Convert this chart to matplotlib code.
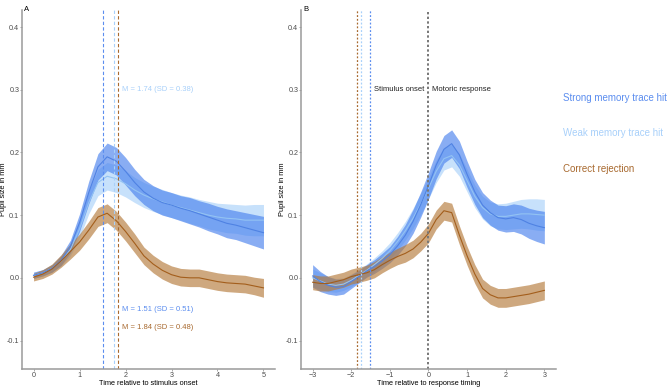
import numpy as np
import matplotlib
matplotlib.use("Agg")
import matplotlib.pyplot as plt

plt.rcParams['font.family'] = ['Liberation Sans', 'DejaVu Sans']

# ---- panel A: time relative to stimulus onset ----
time_a = [0.0, 0.2, 0.4, 0.6, 0.8, 1.0, 1.2, 1.4, 1.6, 1.8, 2.0, 2.2, 2.4,
          2.6, 2.8, 3.0, 3.2, 3.4, 3.6, 3.8, 4.0, 4.2, 4.4, 4.6, 4.8, 5.0]
strong_a = [0.004, 0.008, 0.015, 0.028, 0.050, 0.088, 0.136, 0.177, 0.193, 0.186,
            0.170, 0.152, 0.137, 0.127, 0.120, 0.116, 0.111, 0.107, 0.102, 0.097,
            0.092, 0.087, 0.084, 0.080, 0.076, 0.072]
strong_a_se = [0.005, 0.005, 0.006, 0.008, 0.010, 0.014, 0.018, 0.021, 0.022, 0.022,
               0.022, 0.021, 0.020, 0.020, 0.020, 0.020, 0.020, 0.021, 0.021, 0.022,
               0.022, 0.023, 0.023, 0.024, 0.025, 0.026]
weak_a = [0.004, 0.008, 0.015, 0.027, 0.045, 0.078, 0.120, 0.152, 0.162, 0.158,
          0.150, 0.140, 0.132, 0.126, 0.121, 0.116, 0.112, 0.108, 0.104, 0.100,
          0.097, 0.095, 0.094, 0.092, 0.092, 0.092]
weak_a_se = [0.005, 0.005, 0.006, 0.008, 0.010, 0.014, 0.018, 0.021, 0.022, 0.022,
             0.021, 0.020, 0.020, 0.020, 0.020, 0.020, 0.020, 0.021, 0.021, 0.022,
             0.022, 0.023, 0.023, 0.024, 0.025, 0.025]
correct_a = [0.001, 0.006, 0.014, 0.027, 0.042, 0.057, 0.076, 0.097, 0.103, 0.091,
             0.074, 0.055, 0.035, 0.022, 0.012, 0.005, 0.001, 0.000, 0.000, -0.003,
             -0.006, -0.008, -0.009, -0.010, -0.013, -0.016]
correct_a_se = [0.006, 0.007, 0.008, 0.010, 0.012, 0.013, 0.014, 0.015, 0.015, 0.015,
                0.015, 0.015, 0.014, 0.014, 0.014, 0.014, 0.014, 0.014, 0.014, 0.014,
                0.014, 0.014, 0.014, 0.014, 0.014, 0.015]

# ---- panel B: time relative to response ----
time_b = [-3.0, -2.8, -2.6, -2.4, -2.2, -2.0, -1.8, -1.6, -1.4, -1.2, -1.0, -0.8,
          -0.6, -0.4, -0.2, 0.0, 0.2, 0.4, 0.6, 0.8, 1.0, 1.2, 1.4, 1.6, 1.8,
          2.0, 2.2, 2.4, 2.6, 2.8, 3.0]
strong_b = [0.003, -0.006, -0.012, -0.015, -0.014, -0.006, 0.002, 0.011, 0.018, 0.027,
            0.037, 0.051, 0.068, 0.090, 0.117, 0.147, 0.180, 0.205, 0.214, 0.196,
            0.165, 0.137, 0.116, 0.104, 0.096, 0.094, 0.096, 0.093, 0.087, 0.083, 0.080]
strong_b_se = [0.018, 0.016, 0.014, 0.013, 0.012, 0.011, 0.010, 0.010, 0.011, 0.012,
               0.013, 0.015, 0.017, 0.019, 0.020, 0.021, 0.022, 0.022, 0.022, 0.022,
               0.021, 0.020, 0.020, 0.020, 0.020, 0.021, 0.022, 0.023, 0.024, 0.025, 0.026]
weak_b = [0.000, -0.005, -0.010, -0.012, -0.010, -0.004, 0.004, 0.012, 0.021, 0.031,
          0.043, 0.058, 0.075, 0.095, 0.118, 0.143, 0.170, 0.190, 0.195, 0.180,
          0.155, 0.130, 0.112, 0.102, 0.098, 0.098, 0.100, 0.102, 0.102, 0.101, 0.100]
weak_b_se = [0.014, 0.013, 0.012, 0.011, 0.010, 0.010, 0.010, 0.010, 0.011, 0.012,
             0.013, 0.014, 0.015, 0.016, 0.017, 0.017, 0.018, 0.018, 0.018, 0.018,
             0.018, 0.018, 0.018, 0.019, 0.020, 0.021, 0.022, 0.023, 0.024, 0.025, 0.025]
correct_b = [-0.007, -0.009, -0.009, -0.006, -0.003, 0.002, 0.005, 0.008, 0.013, 0.021,
             0.028, 0.034, 0.039, 0.046, 0.057, 0.071, 0.093, 0.107, 0.104, 0.068,
             0.035, 0.006, -0.017, -0.027, -0.032, -0.032, -0.030, -0.028, -0.026,
             -0.023, -0.020]
correct_b_se = [0.012, 0.012, 0.012, 0.012, 0.012, 0.012, 0.012, 0.012, 0.013, 0.013,
                0.013, 0.013, 0.014, 0.014, 0.014, 0.015, 0.015, 0.015, 0.015, 0.015,
                0.015, 0.015, 0.015, 0.015, 0.015, 0.015, 0.015, 0.015, 0.015, 0.015, 0.015]

# response-time summaries (M, SD) per condition
labels = ["Strong memory trace hit", "Weak memory trace hit", "Correct rejection"]
rt_mean = [1.51, 1.74, 1.84]
rt_sd = [0.51, 0.38, 0.48]

fill_cols = ["#4A82EE", "#A9D1FA", "#B57A3A"]
line_cols = ["#4F82E3", "#93C3F3", "#A35E1C"]
text_cols = ["#5B8DEF", "#A8D0FA", "#A8692F"]
axis_col = "#9A9A9A"

fig = plt.figure(figsize=(6.69, 3.88), dpi=100)
ax_a = fig.add_axes([0.033, 0.048, 0.378, 0.926])
ax_b = fig.add_axes([0.450, 0.048, 0.381, 0.926])


def draw_bands(ax, t, series):
    # weak first, then strong, then correct on top
    for idx in [1, 0, 2]:
        m, se = series[idx]
        m = np.array(m)
        se = np.array(se)
        ax.fill_between(t, m - se, m + se, color=fill_cols[idx], alpha=0.65, lw=0)
        ax.plot(t, m, color=line_cols[idx], lw=0.8)


draw_bands(ax_a, time_a, [(strong_a, strong_a_se), (weak_a, weak_a_se),
                          (correct_a, correct_a_se)])
draw_bands(ax_b, time_b, [(strong_b, strong_b_se), (weak_b, weak_b_se),
                          (correct_b, correct_b_se)])

for i in range(3):
    ax_a.axvline(rt_mean[i], color=text_cols[i], ls=(0, (3, 2)), lw=0.8)
    ax_b.axvline(-rt_mean[i], color=text_cols[i], ls=(0, (1.5, 1.5)), lw=0.9)
ax_b.axvline(0, color="#777777", ls=(0, (1.2, 1.2)), lw=1.4)

# annotations panel A
ax_a.text(1.92, 0.30, "M = %.2f (SD = %.2f)" % (rt_mean[1], rt_sd[1]),
          color=text_cols[1], fontsize=5.5, va="center")
ax_a.text(1.92, -0.050, "M = %.2f (SD = %.2f)" % (rt_mean[0], rt_sd[0]),
          color=text_cols[0], fontsize=5.5, va="center")
ax_a.text(1.92, -0.080, "M = %.2f (SD = %.2f)" % (rt_mean[2], rt_sd[2]),
          color=text_cols[2], fontsize=5.5, va="center")

# annotations panel B
ax_b.text(-1.42, 0.30, "Stimulus onset", color="#222222", fontsize=5.5, va="center")
ax_b.text(0.1, 0.30, "Motoric response", color="#222222", fontsize=5.5, va="center")

for ax, xl, xt, lab in [(ax_a, (-0.25, 5.25), [0, 1, 2, 3, 4, 5],
                         "Time relative to stimulus onset"),
                        (ax_b, (-3.3, 3.3), [-3, -2, -1, 0, 1, 2, 3],
                         "Time relative to response timing")]:
    ax.set_xlim(*xl)
    ax.set_ylim(-0.146, 0.427)
    ax.set_xticks(xt)
    ax.set_yticks([-0.1, 0.0, 0.1, 0.2, 0.3, 0.4])
    ax.set_yticklabels(["-0.1", "0.0", "0.1", "0.2", "0.3", "0.4"])
    ax.set_xlabel(lab, fontsize=5.3)
    ax.set_ylabel("Pupil size in mm", fontsize=5.3)
    ax.xaxis.set_label_coords(0.5, -0.029)
    ax.yaxis.set_label_coords(-0.058, 0.5)
    for s in ["top", "right"]:
        ax.spines[s].set_visible(False)
    for s in ["left", "bottom"]:
        ax.spines[s].set_color(axis_col)
        ax.spines[s].set_linewidth(1.1)
    ax.tick_params(colors=axis_col, labelcolor="#4D4D4D", labelsize=5.2,
                   length=1.5, width=0.6, pad=0.5)
    ax.set_facecolor("none")

fig.text(0.036, 0.985, "A", fontsize=5.5, va="top")
fig.text(0.453, 0.985, "B", fontsize=5.5, va="top")

for i, lab in enumerate(labels):
    fig.text(0.842, [0.747, 0.657, 0.564][i], lab, color=text_cols[i],
             fontsize=7.0, va="center")

fig.savefig("out.png", dpi=100)
